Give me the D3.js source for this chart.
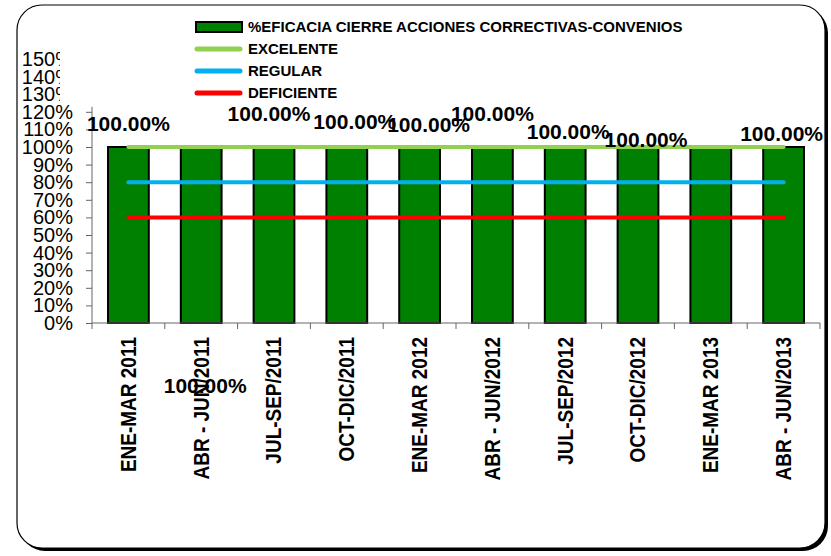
<!DOCTYPE html>
<html>
<head>
<meta charset="utf-8">
<script src="https://cdn.jsdelivr.net/npm/d3@7"></script>
<style>
  body { margin: 0; background: #fff; }
  svg { display: block; font-family: "Liberation Sans", Arial, sans-serif; }
</style>
</head>
<body>
<svg width="831" height="556"></svg>
<script>
// data
const categories = ["ENE-MAR 2011", "ABR - JUN/2011", "JUL-SEP/2011", "OCT-DIC/2011", "ENE-MAR 2012",
                    "ABR - JUN/2012", "JUL-SEP/2012", "OCT-DIC/2012", "ENE-MAR 2013", "ABR - JUN/2013"];
const eficacia = [1, 1, 1, 1, 1, 1, 1, 1, 1, 1];
const excelente = [1, 1, 1, 1, 1, 1, 1, 1, 1, 1];
const regular = [0.8, 0.8, 0.8, 0.8, 0.8, 0.8, 0.8, 0.8, 0.8, 0.8];
const deficiente = [0.6, 0.6, 0.6, 0.6, 0.6, 0.6, 0.6, 0.6, 0.6, 0.6];
const yTicks = [0, 0.1, 0.2, 0.3, 0.4, 0.5, 0.6, 0.7, 0.8, 0.9, 1.0, 1.1, 1.2, 1.3, 1.4, 1.5];
const legendNames = ["%EFICACIA CIERRE ACCIONES CORRECTIVAS-CONVENIOS", "EXCELENTE", "REGULAR", "DEFICIENTE"];

// labels were dragged around by hand in the original (px offsets, null = hidden)
const labelOffsets = [[0, -23], [4, 239], [-5, -33], [8, -25], [9, -22], [0, -33], [3, -15], [8, -7], null, [-2, -13]];

const svg = d3.select("svg");

// chart frame with shadow
svg.append("rect")
    .attr("x", 20).attr("y", 8)
    .attr("width", 808).attr("height", 543)
    .attr("rx", 25)
    .attr("fill", "#000");
svg.append("rect")
    .attr("x", 17).attr("y", 5)
    .attr("width", 808).attr("height", 543)
    .attr("rx", 25)
    .attr("fill", "#fff")
    .attr("stroke", "#000")
    .attr("stroke-width", 1.2);

const x = d3.scaleBand()
    .domain(categories)
    .range([92, 820])
    .paddingInner(0.44)
    .paddingOuter(0.22);

const y = d3.scaleLinear()
    .domain([0, 1.5])
    .range([323, 59]);

const pct = d3.format(".0%");

// y axis (0-120% with ticks)
const yAxisG = svg.append("g")
    .attr("transform", "translate(92,0)")
    .call(d3.axisLeft(y).tickValues(yTicks.filter(d => d <= 1.2)).tickSize(6).tickPadding(13).tickFormat(pct));
yAxisG.select(".domain").remove();
yAxisG.selectAll(".tick line").attr("stroke", "#666");
yAxisG.selectAll(".tick text")
    .attr("font-size", 20)
    .attr("font-family", "Liberation Sans, Arial, sans-serif")
    .attr("fill", "#000");
yAxisG.append("line")
    .attr("x1", 0).attr("x2", 0)
    .attr("y1", y(0)).attr("y2", y(1.2) - 5)
    .attr("stroke", "#666");

// upper labels (130-150%) get cut off at the left
svg.append("clipPath").attr("id", "cutLabels")
  .append("rect").attr("x", 0).attr("y", 0).attr("width", 60).attr("height", 200);
const upperG = svg.append("g").attr("clip-path", "url(#cutLabels)")
  .append("g")
    .attr("transform", "translate(92,0)")
    .call(d3.axisLeft(y).tickValues(yTicks.filter(d => d > 1.2)).tickSize(0).tickPadding(19).tickFormat(pct));
upperG.select(".domain").remove();
upperG.selectAll(".tick text")
    .attr("font-size", 20)
    .attr("font-family", "Liberation Sans, Arial, sans-serif")
    .attr("fill", "#000");

// bars
svg.append("g")
  .selectAll("rect")
  .data(eficacia)
  .join("rect")
    .attr("x", (d, i) => x(categories[i]))
    .attr("y", d => y(d))
    .attr("width", x.bandwidth())
    .attr("height", d => y(0) - y(d))
    .attr("fill", "#008000")
    .attr("stroke", "#000")
    .attr("stroke-width", 2);

// x axis
const xAxisG = svg.append("g")
    .attr("transform", `translate(0,${y(0)})`);
xAxisG.append("line")
    .attr("x1", 92).attr("x2", 820)
    .attr("stroke", "#666");
const bounds = categories.map(c => x(c) - x.step() * x.paddingInner() / 2).concat([820]);
xAxisG.selectAll(".tk")
  .data(bounds)
  .join("line")
    .attr("class", "tk")
    .attr("x1", d => d).attr("x2", d => d)
    .attr("y1", 0).attr("y2", 6)
    .attr("stroke", "#666");
xAxisG.selectAll("text")
  .data(categories)
  .join("text")
    .attr("transform", d => `translate(${x(d) + x.bandwidth() / 2},14) rotate(-90) scale(1,1.12)`)
    .attr("text-anchor", "end")
    .attr("dy", "0.35em")
    .attr("font-size", 19)
    .attr("font-weight", "bold")
    .text(d => d);

// reference lines
const line = d3.line()
    .x((d, i) => x(categories[i]) + x.bandwidth() / 2)
    .y(d => y(d));
const refSeries = [
  { values: excelente, color: "#92D050" },
  { values: regular, color: "#00B0F0" },
  { values: deficiente, color: "#FF0000" }
];
svg.append("g")
  .selectAll("path")
  .data(refSeries)
  .join("path")
    .attr("d", d => line(d.values))
    .attr("fill", "none")
    .attr("stroke", d => d.color)
    .attr("stroke-width", 4)
    .attr("stroke-linecap", "round");

// data labels
svg.append("g")
  .selectAll("text")
  .data(eficacia.map((v, i) => ({ v, i, off: labelOffsets[i] })).filter(d => d.off))
  .join("text")
    .attr("x", d => x(categories[d.i]) + x.bandwidth() / 2 + d.off[0])
    .attr("y", d => y(d.v) + d.off[1])
    .attr("dy", "0.35em")
    .attr("text-anchor", "middle")
    .attr("font-size", 21)
    .attr("font-weight", "bold")
    .text(d => d3.format(".2%")(d.v));

// legend
const legend = svg.append("g");
const legendY = [27, 49, 71, 93];
legend.append("rect")
    .attr("x", 196).attr("y", 22)
    .attr("width", 46).attr("height", 10)
    .attr("fill", "#008000")
    .attr("stroke", "#000")
    .attr("stroke-width", 2);
legend.selectAll("line")
  .data(refSeries)
  .join("line")
    .attr("x1", 197).attr("x2", 240)
    .attr("y1", (d, i) => legendY[i + 1]).attr("y2", (d, i) => legendY[i + 1])
    .attr("stroke", d => d.color)
    .attr("stroke-width", 5)
    .attr("stroke-linecap", "round");
legend.selectAll("text")
  .data(legendNames)
  .join("text")
    .attr("x", 248)
    .attr("y", (d, i) => legendY[i])
    .attr("dy", "0.35em")
    .attr("font-size", 15)
    .attr("font-weight", "bold")
    .text(d => d);
</script>
</body>
</html>
